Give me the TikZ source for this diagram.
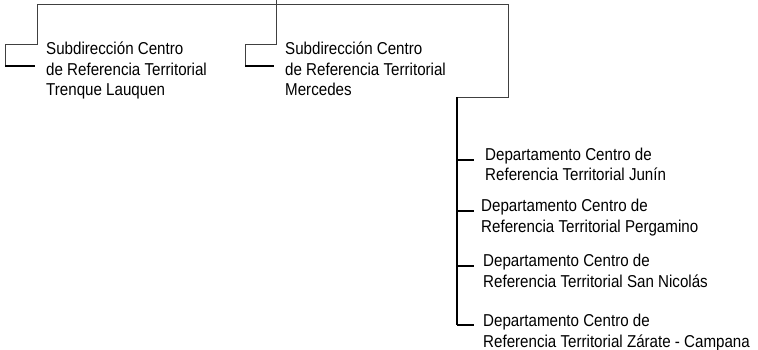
\documentclass[tikz,border=0pt]{standalone}
\usepackage{fontspec}
\setmainfont{Liberation Sans}[FakeStretch=0.88]
\usetikzlibrary{calc}

\begin{document}
\begin{tikzpicture}[%
    x=1pt, y=-1pt,              % Work in pixels of the original, y going down
    ]
% -------------------------------------------------
% Box and line styles
\tikzset{
  unit/.style={anchor=base west, inner sep=0pt, align=left,
    font={\fontsize{17.2}{20.5}\selectfont}},
  wire/.style={draw, black!75, line width=0.8pt},
  stub/.style={draw, black, line width=1.9pt},
  spine/.style={draw, black, line width=1.2pt}
}
\useasboundingbox (0,0) rectangle (758,350);
% -------------------------------------------------
% Units, placed by the baseline of their last line
\node [unit] (tl) at (46,96) {Subdirección Centro\\de Referencia Territorial\\Trenque Lauquen};
\node [unit] (me) at (285,96) {Subdirección Centro\\de Referencia Territorial\\Mercedes};
\node [unit] (ju) at (485,181) {Departamento Centro de\\Referencia Territorial Junín};
\node [unit] (pe) at (481,232) {Departamento Centro de\\Referencia Territorial Pergamino};
\node [unit] (sn) at (483,287) {Departamento Centro de\\Referencia Territorial San Nicolás};
\node [unit] (za) at (483,347) {Departamento Centro de\\Referencia Territorial Zárate - Campana};

% Junction points of the tree
\coordinate (root) at (276,0);
\coordinate (top) at (276,4);
\coordinate (dep) at (457,97);

% -------------------------------------------------
% Connectors
\draw[wire] (root) -- (top) -- (37,4) -- (37,44) -- (5,44) -- (5,66);
\draw[stub] (5,66) -- ($(tl.base west)+(-11,-30)$);
\draw[wire] (top) -- (276,44) -- (245,44) -- (245,66);
\draw[stub] (245,66) -- ($(me.base west)+(-11,-30)$);
\draw[wire] (top) -- (508,4) -- (508,97) -- (dep);
\draw[spine] (dep) -- (457,325);
\draw[stub] (457,160) -- ($(ju.base west)+(-11,-21)$);
\draw[stub] (457,211) -- ($(pe.base west)+(-7,-21)$);
\draw[stub] (457,266) -- ($(sn.base west)+(-9,-21)$);
\draw[stub] (457,325) -- ($(za.base west)+(-9,-22)$);

% -------------------------------------------------
\end{tikzpicture}
\end{document}
